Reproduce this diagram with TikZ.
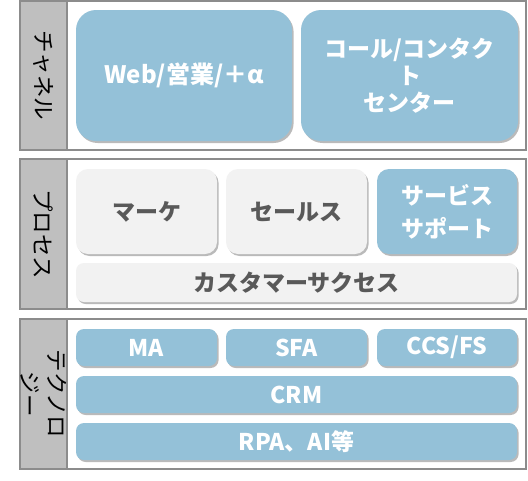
\documentclass[tikz,border=0pt]{standalone}
\usepackage{fontspec}
\newfontfamily\jp{Noto Sans CJK JP}
\usetikzlibrary{shadows}
\definecolor{boxblue}{HTML}{94C1D8}
\definecolor{boxgray}{HTML}{F2F2F2}
\definecolor{stripgray}{HTML}{BFBFBF}
\definecolor{framegray}{HTML}{8C8C8C}
\definecolor{textgray}{HTML}{595959}
\tikzset{
  panel/.style={draw=framegray, line width=1.3pt, fill=white},
  strip/.style={draw=framegray, line width=1.3pt, fill=stripgray},
  sh/.style={drop shadow={shadow xshift=1.6pt, shadow yshift=-2pt, opacity=0.45, fill=black!60}},
  bluebox/.style={sh, fill=boxblue, draw=none, font=\jp\bfseries\fontsize{23}{27}\selectfont, text=white, align=center, inner sep=0pt},
  graybox/.style={sh, fill=boxgray, draw=none, font=\jp\bfseries\fontsize{23}{27}\selectfont, text=textgray, align=center, inner sep=0pt},
  lbl/.style={rotate=-90, font=\jp\fontsize{22.5}{27}\selectfont, text=black, align=center, inner sep=0pt}
}
\begin{document}
\begin{tikzpicture}[x=1pt,y=-1pt]
\useasboundingbox (0,0) rectangle (528,480);
% panels
\draw[panel] (20,1) rectangle (526,150);
\draw[strip] (20,1) rectangle (67,150);
\draw[panel] (20,159) rectangle (526,309);
\draw[strip] (20,159) rectangle (67,309);
\draw[panel] (20,319) rectangle (526,469);
\draw[strip] (20,319) rectangle (67,469);
% labels
\node[lbl] (lch) at (43.5,75.5) {チャネル};
\node[lbl] (lpr) at (43.5,234) {プロセス};
\node[lbl] (lte) at (43.5,394) {テクノロ\\ジー};
% channel
\node[bluebox, rounded corners=20pt, minimum width=216pt, minimum height=131pt, font=\jp\bfseries\fontsize{24}{27}\selectfont] (web) at (184,75.5) {Web/営業/＋α};
\node[bluebox, rounded corners=20pt, minimum width=217pt, minimum height=131pt] (call) at (409.5,75.5) {コール/コンタク\\ト\\センター};
% process
\node[graybox, rounded corners=12pt, minimum width=141pt, minimum height=85pt] (mk) at (146.5,211.5) {マーケ};
\node[graybox, rounded corners=12pt, minimum width=141pt, minimum height=85pt] (sl) at (296.5,211.5) {セールス};
\node[bluebox, rounded corners=12pt, minimum width=140pt, minimum height=85pt, font=\jp\bfseries\fontsize{23}{33}\selectfont] (ss) at (447,211.5) {サービス\\サポート};
\node[graybox, rounded corners=8pt, minimum width=441pt, minimum height=39pt] (cs) at (296.5,282.5) {カスタマーサクセス};
% technology
\node[bluebox, rounded corners=8pt, minimum width=141pt, minimum height=37pt] (ma) at (146.5,347.5) {MA};
\node[bluebox, rounded corners=8pt, minimum width=141pt, minimum height=37pt] (sfa) at (296.5,347.5) {SFA};
\node[bluebox, rounded corners=8pt, minimum width=140pt, minimum height=37pt] (ccs) at (447,347.5) {CCS/FS};
\node[bluebox, rounded corners=8pt, minimum width=441pt, minimum height=37pt] (crm) at (296.5,394.5) {CRM};
\node[bluebox, rounded corners=8pt, minimum width=441pt, minimum height=37pt] (rpa) at (296.5,441.5) {RPA、AI等};
\end{tikzpicture}
\end{document}
